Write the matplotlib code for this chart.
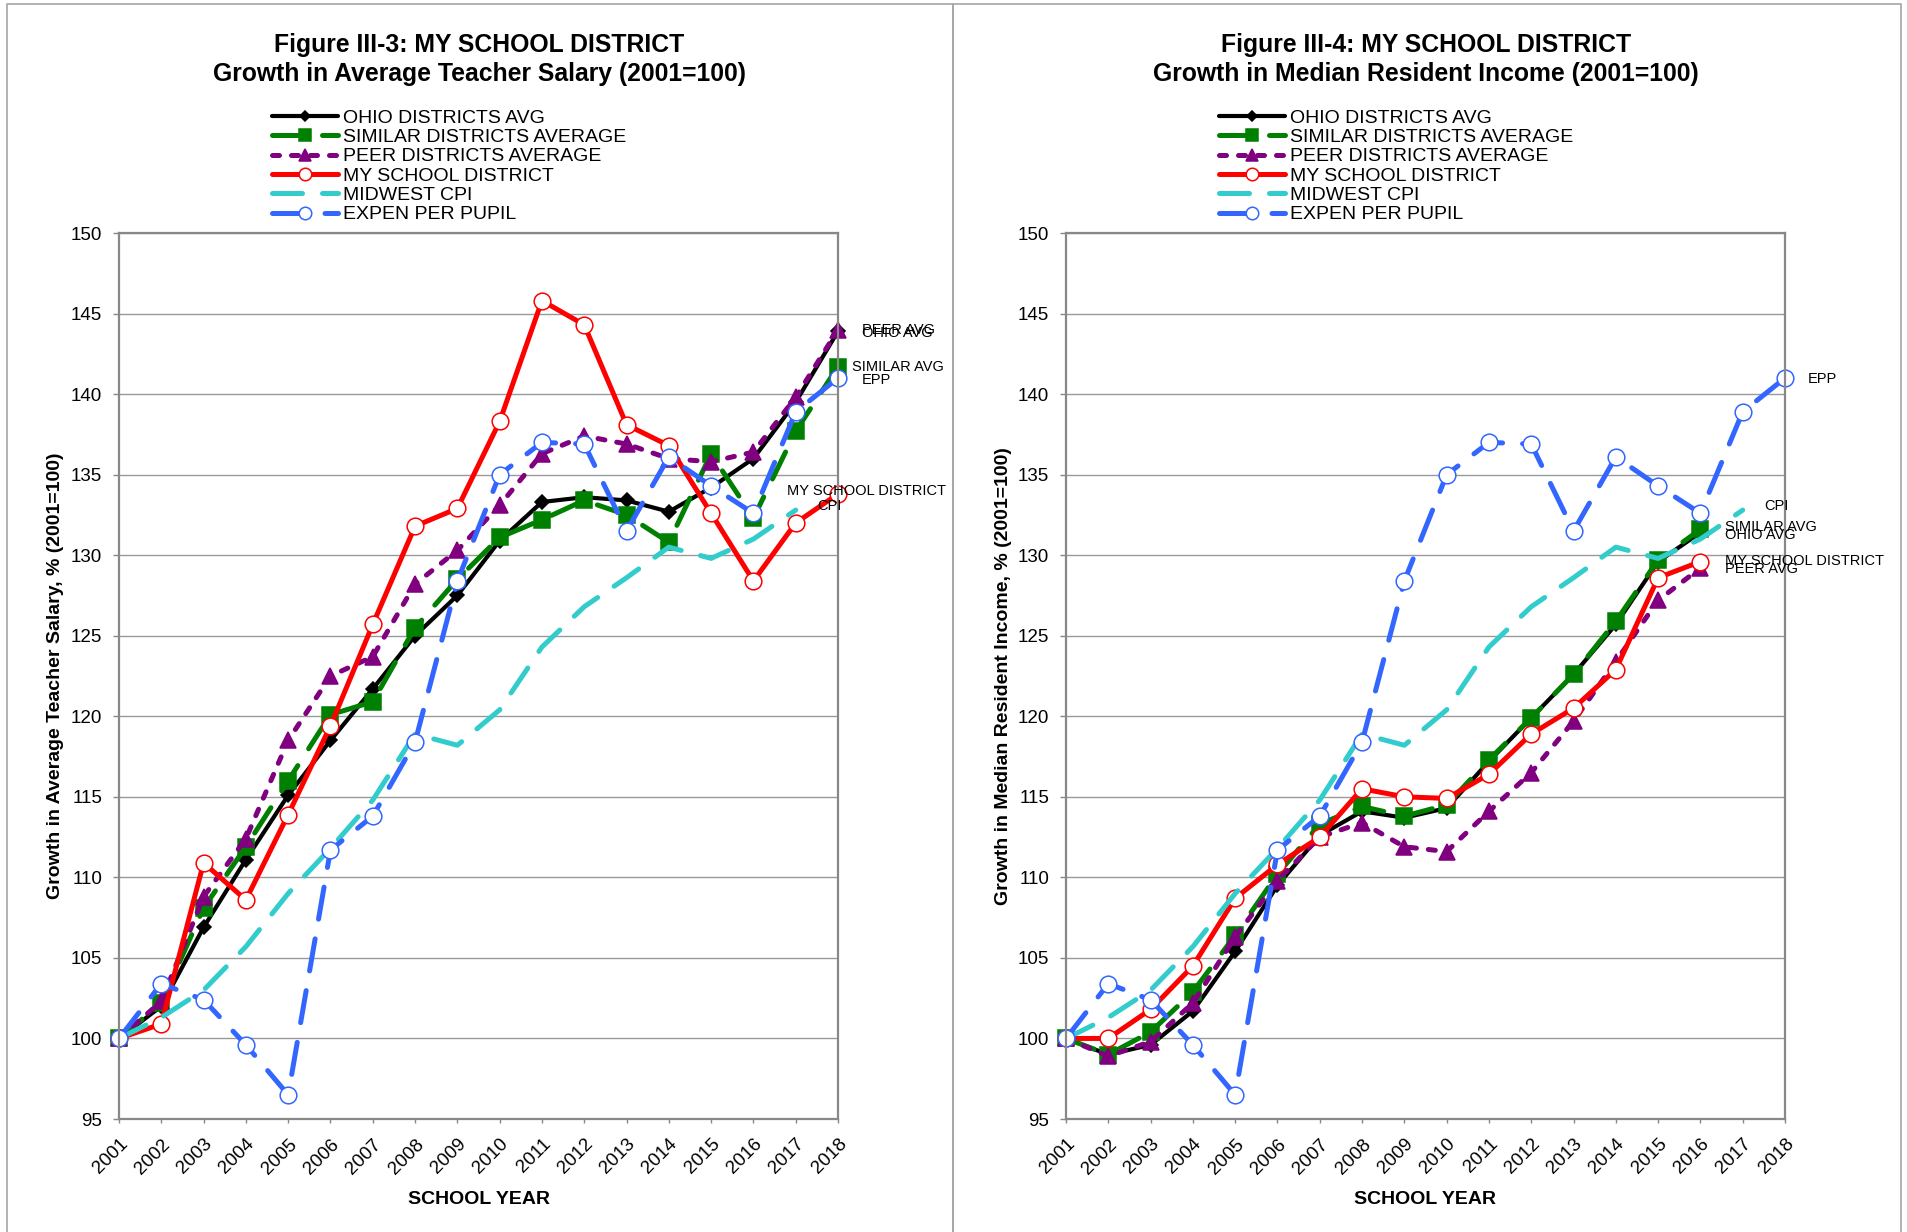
#! /usr/bin/env python3
import numpy as np
import matplotlib
matplotlib.use('Agg')
import matplotlib.pyplot as plt
from matplotlib.patches import Rectangle

plt.rcParams['font.family'] = ['Liberation Sans', 'DejaVu Sans']

years = list(range(2001, 2019))
nan = np.nan

#############################################
## Figure III-3: teacher salary (2001=100)
ohio_sal = [100, 102.0, 106.9, 111.1, 115.1, 118.5, 121.7, 125.0, 127.5, 130.9, 133.3, 133.6, 133.4, 132.7, 134.2, 136.0, 139.5, 143.9]
similar_sal = [100, 102.2, 108.1, 111.9, 116.0, 120.1, 120.9, 125.5, 128.5, 131.1, 132.2, 133.4, 132.5, 130.8, 136.3, 132.3, 137.7, 141.7]
peer_sal = [100, 102.3, 108.8, 112.4, 118.5, 122.5, 123.7, 128.2, 130.3, 133.1, 136.3, 137.4, 136.9, 136.0, 135.8, 136.4, 139.8, 144.0]
my_sal = [100, 100.9, 110.9, 108.6, 113.9, 119.4, 125.7, 131.8, 132.9, 138.3, 145.8, 144.3, 138.1, 136.8, 132.6, 128.4, 132.0, 133.8]

## Figure III-4: median resident income (2001=100)
ohio_inc = [100, 99.0, 99.6, 101.7, 105.4, 109.5, 112.6, 114.1, 113.7, 114.3, 117.2, 119.9, 122.6, 125.7, 129.6, 131.4, nan, nan]
similar_inc = [100, 99.0, 100.4, 102.9, 106.4, 110.2, 113.3, 114.4, 113.8, 114.5, 117.3, 119.9, 122.6, 125.9, 129.7, 131.6, nan, nan]
peer_inc = [100, 98.9, 99.8, 102.2, 106.3, 109.8, 112.5, 113.4, 111.9, 111.6, 114.1, 116.5, 119.7, 123.4, 127.2, 129.2, nan, nan]
my_inc = [100, 100.0, 101.8, 104.5, 108.7, 110.8, 112.5, 115.5, 115.0, 114.9, 116.4, 118.9, 120.5, 122.9, 128.6, 129.6, nan, nan]

## shared by both charts
midwest_cpi = [100, 101.3, 103.0, 105.7, 109.0, 111.8, 114.8, 118.9, 118.2, 120.4, 124.3, 126.8, 128.6, 130.5, 129.8, 131.0, 132.8, nan]
expen_pp = [100, 103.4, 102.4, 99.6, 96.5, 111.7, 113.8, 118.4, 128.4, 135.0, 137.0, 136.9, 131.5, 136.1, 134.3, 132.6, 138.9, 141.0]

legend_labels = ['OHIO DISTRICTS AVG', 'SIMILAR DISTRICTS AVERAGE', 'PEER DISTRICTS AVERAGE',
                 'MY SCHOOL DISTRICT', 'MIDWEST CPI', 'EXPEN PER PUPIL']
end_labels = ['OHIO AVG', 'SIMILAR AVG', 'PEER AVG', 'MY SCHOOL DISTRICT', 'CPI', 'EPP']

# color, linestyle (dashes), marker, markersize, linewidth
styles = [
    dict(color='black', ls='-', marker='D', ms=7, lw=3.0, mfc='black', mec='black'),
    dict(color='#008000', dashes=(6.0, 4.0), marker='s', ms=12, lw=3.6, mfc='#008000', mec='#008000'),
    dict(color='#800080', dashes=(1.4, 2.4), marker='^', ms=12, lw=3.6, mfc='#800080', mec='#800080'),
    dict(color='#ff0000', ls='-', marker='o', ms=12, lw=3.6, mfc='white', mec='#ff0000'),
    dict(color='#33cccc', dashes=(6.0, 4.0), marker=None, ms=0, lw=3.6, mfc='none', mec='none'),
    dict(color='#3366ff', dashes=(6.5, 4.0), marker='o', ms=12, lw=3.6, mfc='white', mec='#3366ff'),
]

W, H = 1907, 1232
fig = plt.figure(figsize=(W / 100, H / 100), dpi=100)

# panel borders
for x0, x1 in [(7, 953), (953, 1901)]:
    fig.patches.append(Rectangle((x0 / W, -0.05), (x1 - x0) / W, 1.05 - 4 / H, transform=fig.transFigure,
                                 fill=False, edgecolor='#a6a6a6', linewidth=1.2))


def draw_chart(left_px, series, title1, title2, ylabel, label_offsets):
    ax = fig.add_axes([left_px / W, 113 / H, 719 / W, 886 / H])
    handles = []
    for vals, st in zip(series, styles):
        kw = dict(color=st['color'], linewidth=st['lw'], marker=st['marker'], markersize=st['ms'],
                  markerfacecolor=st['mfc'], markeredgecolor=st['mec'], markeredgewidth=1.1,
                  clip_on=False, solid_capstyle='round', dash_capstyle='round', solid_joinstyle='round')
        if 'dashes' in st:
            kw['dashes'] = st['dashes']
        else:
            kw['linestyle'] = st['ls']
        line, = ax.plot(years, vals, **kw)
        handles.append(line)

    # data labels at end of each series
    for txt, vals, (dx, dy) in zip(end_labels, series, label_offsets):
        arr = np.array(vals, dtype=float)
        i = np.where(~np.isnan(arr))[0][-1]
        ax.annotate(txt, xy=(years[i], arr[i]), xytext=(dx, dy), textcoords='offset pixels',
                    ha='left', va='center', fontsize=10.5, annotation_clip=False)

    ax.set_xlim(2001, 2018)
    ax.set_ylim(95, 150)
    ax.set_xticks(years)
    ax.set_yticks(np.arange(95, 151, 5))
    ax.set_xticklabels([str(y) for y in years], rotation=45, ha='right', rotation_mode='anchor')
    ax.yaxis.grid(True, color='#999999', linewidth=1.0)
    ax.set_axisbelow(True)
    for sp in ax.spines.values():
        sp.set_color('#888888')
        sp.set_linewidth(1.6)
    ax.tick_params(axis='y', length=4, width=1, color='#888888', pad=8, labelsize=13.5)
    ax.tick_params(axis='x', length=3, width=1, color='#888888', pad=9, labelsize=13.5)

    ax.set_xlabel('SCHOOL YEAR', fontsize=14, fontweight='bold', va='center')
    ax.xaxis.set_label_coords(0.5, -80 / 886)
    ax.set_ylabel(ylabel, fontsize=14, fontweight='bold', va='center')
    ax.yaxis.set_label_coords(-63 / 719, 0.5)

    cx = (left_px + 360) / W
    fig.text(cx, 1 - 45 / H, title1, ha='center', va='center', fontsize=17.8, fontweight='bold')
    fig.text(cx, 1 - 74 / H, title2, ha='center', va='center', fontsize=17.8, fontweight='bold')

    ax.legend(handles, legend_labels, loc='upper left',
              bbox_to_anchor=((left_px + 153) / W, 1 - 109 / H), bbox_transform=fig.transFigure,
              frameon=False, borderpad=0, borderaxespad=0, fontsize=14,
              handlelength=3.4, handletextpad=0.26, labelspacing=0.09, markerscale=0.75)
    return ax


ax1 = draw_chart(119, [ohio_sal, similar_sal, peer_sal, my_sal, midwest_cpi, expen_pp],
                 'Figure III-3: MY SCHOOL DISTRICT', 'Growth in Average Teacher Salary (2001=100)',
                 'Growth in Average Teacher Salary, % (2001=100)',
                 [(24, -2), (14, 0), (24, 0), (-51, 3), (22, 4), (24, -2)])
ax2 = draw_chart(1066, [ohio_inc, similar_inc, peer_inc, my_inc, midwest_cpi, expen_pp],
                 'Figure III-4: MY SCHOOL DISTRICT', 'Growth in Median Resident Income (2001=100)',
                 'Growth in Median Resident Income, % (2001=100)',
                 [(25, -2), (25, 2), (25, -1), (25, 1), (22, 4), (23, -1)])

fig.savefig('out.png', dpi=100)
